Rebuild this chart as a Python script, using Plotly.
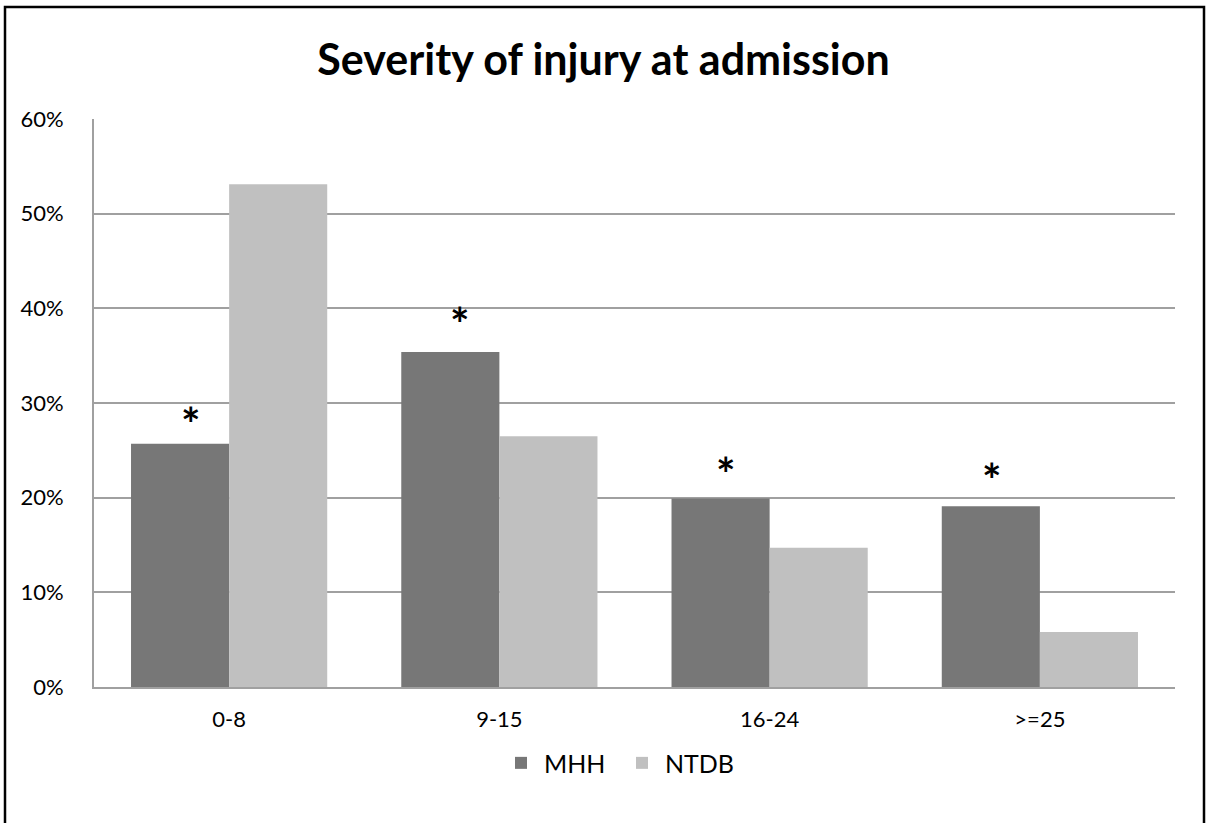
import plotly.graph_objects as go

categories = ["0-8", "9-15", "16-24", ">=25"]
mhh = [0.257, 0.354, 0.199, 0.191]
ntdb = [0.531, 0.265, 0.147, 0.058]
significant = [True, True, True, True]
y_ticks = [0, 0.1, 0.2, 0.3, 0.4, 0.5, 0.6]
y_tick_labels = ["0%", "10%", "20%", "30%", "40%", "50%", "60%"]

FONT = "Lato"

fig = go.Figure()
fig.add_trace(go.Bar(name="MHH", x=categories, y=mhh, marker=dict(color="#777777", line=dict(width=0))))
fig.add_trace(go.Bar(name="NTDB", x=categories, y=ntdb, marker=dict(color="#C0C0C0", line=dict(width=0))))

bargap = 0.274
offset = (1 - bargap) / 4
xshifts = [11, 10, 5, 1]
yshifts = [-9, -1, -4, -3]
for i, (cat, v, s) in enumerate(zip(categories, mhh, significant)):
    if s:
        fig.add_annotation(x=i - offset, y=v, xref="x", yref="y", text="<b>*</b>",
                           showarrow=False, yanchor="bottom", yshift=yshifts[i], xshift=xshifts[i],
                           font=dict(family=FONT, size=46, color="black"))

fig.update_layout(
    width=1207, height=823,
    margin=dict(l=94, r=32, t=119, b=136),
    paper_bgcolor="white", plot_bgcolor="white",
    barmode="group", bargap=bargap, bargroupgap=0,
    title=dict(text="<b>Severity of injury at admission</b>", x=0.5, xref="container", xanchor="center",
               y=1 - 60 / 823, yanchor="middle", yref="container",
               font=dict(family=FONT, size=43, color="black")),
    font=dict(family=FONT, size=22, color="black"),
    legend=dict(orientation="h", x=(498 - 94) / 1081, xanchor="left", y=-0.134, yanchor="middle",
                font=dict(family=FONT, size=25, color="black"), itemwidth=36,
                entrywidth=70, entrywidthmode="pixels",
                traceorder="normal"),
    showlegend=True,
)
fig.update_xaxes(showline=True, linecolor="#A0A0A0", linewidth=2, showgrid=False,
                 ticks="", ticklabelstandoff=12, tickfont=dict(size=22))
fig.update_yaxes(range=[0, 0.6], tickvals=y_ticks, ticktext=y_tick_labels,
                 showgrid=True, gridcolor="#A0A0A0", gridwidth=1.5,
                 showline=True, linecolor="#A0A0A0", linewidth=2, zeroline=False,
                 ticks="", ticklabelstandoff=24, tickfont=dict(size=22))

# outer border of the chart image
fig.add_shape(type="rect", xref="paper", yref="paper",
              x0=(5 - 94) / 1081, x1=(1204 - 94) / 1081,
              y0=(687 - 830) / 568, y1=(687 - 7) / 568,
              line=dict(color="black", width=2.5), fillcolor="rgba(0,0,0,0)", layer="above")

fig.write_html("out.html", config={"displayModeBar": False},
               post_script="document.body.style.margin='0';")
